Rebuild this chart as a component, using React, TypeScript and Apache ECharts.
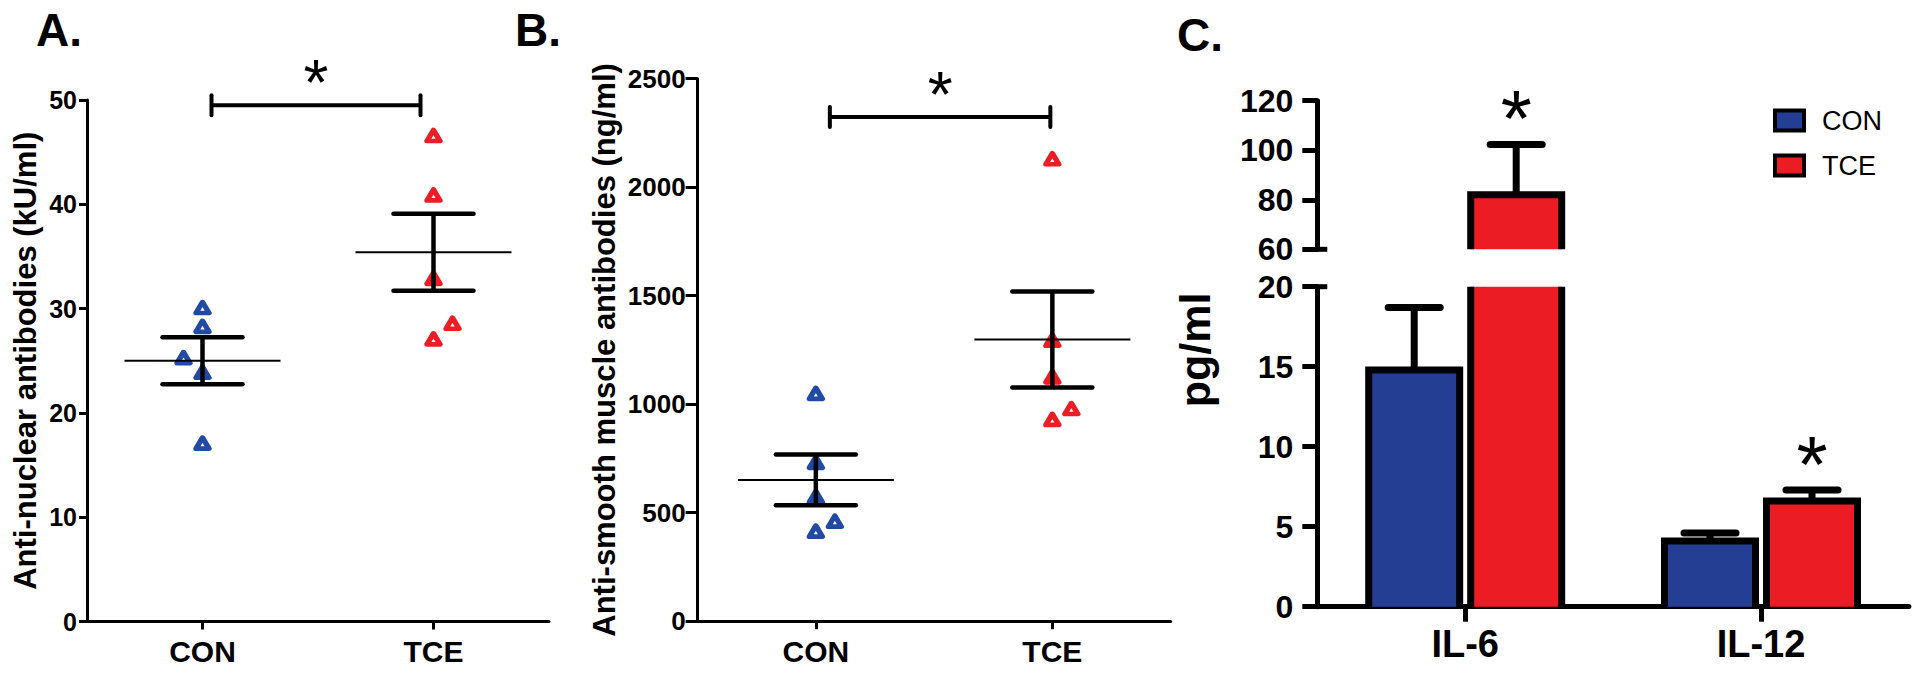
import React, { useEffect, useRef } from "react";
import * as echarts from "echarts";

const FONT = "'Liberation Sans', Arial, Helvetica, sans-serif";

// ---------------- data ----------------
const GROUPS = ["CON", "TCE"];

// Panel A: anti-nuclear antibodies (kU/ml)
const ANA_CON = [30.1, 28.3, 25.3, 23.9, 17.1];
const ANA_TCE = [46.6, 40.9, 32.9, 28.6, 27.1];
const ANA_MEAN = [25.0, 35.4];
const ANA_SEM = [2.25, 3.7];
const ANA_BRACKET = 49.5;
const ANA_TICKS = [0, 10, 20, 30, 40, 50];

// Panel B: anti-smooth muscle antibodies (ng/ml)
const SMA_CON = [1050, 732, 574, 461, 415];
const SMA_TCE = [2131, 1295, 1126, 980, 930];
const SMA_MEAN = [651, 1298];
const SMA_SEM = [117, 221];
const SMA_BRACKET = 2323;
const SMA_TICKS = [0, 500, 1000, 1500, 2000, 2500];

// Panel C: cytokines (pg/ml)
const CYTOKINES = ["IL-6", "IL-12"];
const CON_PG = [14.8, 4.1];
const CON_PG_SEM = [3.9, 0.5];
const TCE_PG = [82, 6.6];
const TCE_PG_SEM = [20.3, 0.7];
const TCE_SIG = [1, 1];
const LOW_TICKS = [0, 5, 10, 15, 20];
const HIGH_TICKS = [60, 80, 100, 120];

// marker side shift (-1 left, 0 centre, +1 right)
const ANA_CON_SIDE = [0, 0, -1, 0, 0];
const ANA_TCE_SIDE = [0, 0, 0, 1, 0];
const SMA_CON_SIDE = [0, 0, 0, 1, 0];
const SMA_TCE_SIDE = [0, 0, 0, 1, 0];

// ---------------- style ----------------
const BLACK = "#000";
const BLUE_PT = "#2249A3";
const RED_PT = "#EE1D25";
const BLUE_BAR = "#233E93";
const RED_BAR = "#EC1C24";
const BAR_W = 91;
const BAR_GAP_PX = 11;
const BAR_OFFSET = (BAR_W + BAR_GAP_PX) / 2;

function axisRange(ticks: number[]) {
  return { min: ticks[0], max: ticks[ticks.length - 1], interval: ticks[1] - ticks[0] };
}

function buildOption(): any {
  const gridBase = { containLabel: false, outerBoundsMode: "none" };
  const grid = [
    { ...gridBase, left: 87, top: 100, width: 462, height: 521.5 },
    { ...gridBase, left: 697.6, top: 78.7, width: 473, height: 542.5 },
    { ...gridBase, left: 1317.3, top: 100.7, width: 591.6, height: 148.6 },
    { ...gridBase, left: 1317.3, top: 286.7, width: 591.6, height: 320 },
  ];

  const xCat = (gridIndex: number, data: string[], lw: number, tickLen: number, fontSize: number, margin: number, show = true) => ({
    type: "category",
    gridIndex,
    data,
    show,
    boundaryGap: true,
    axisLine: { show: true, onZero: false, lineStyle: { color: BLACK, width: lw } },
    axisTick: { show: true, alignWithLabel: true, length: tickLen, lineStyle: { color: BLACK, width: lw } },
    axisLabel: { color: BLACK, fontFamily: FONT, fontWeight: "bold", fontSize, margin },
    splitLine: { show: false },
  });

  const yVal = (gridIndex: number, ticks: number[], lw: number, tickLen: number, fontSize: number, margin: number, extra: any = {}) => ({
    type: "value",
    gridIndex,
    ...axisRange(ticks),
    axisLine: { show: true, lineStyle: { color: BLACK, width: lw } },
    axisTick: { show: true, length: tickLen, lineStyle: { color: BLACK, width: lw } },
    axisLabel: {
      color: BLACK,
      fontFamily: FONT,
      fontWeight: "bold",
      fontSize,
      margin,
      formatter: (v: number) => String(v),
    },
    splitLine: { show: false },
    ...extra,
  });

  const yName = (name: string, gap: number) => ({
    name,
    nameLocation: "middle",
    nameGap: gap,
    nameRotate: 90,
    nameMoveOverlap: false,
    nameTextStyle: { color: BLACK, fontFamily: FONT, fontWeight: "bold", fontSize: 31 },
  });

  const xAxis = [
    xCat(0, GROUPS, 3, 8, 30, 15),
    xCat(1, GROUPS, 3, 8, 30, 15),
    xCat(2, CYTOKINES, 5, 15, 38, 18, false),
    xCat(3, CYTOKINES, 5, 15, 38, 18),
  ];
  const yAxis = [
    yVal(0, ANA_TICKS, 3, 8, 25, 10, yName("Anti-nuclear antibodies (kU/ml)", 46)),
    yVal(1, SMA_TICKS, 3, 12, 26, 12, yName("Anti-smooth muscle antibodies (ng/ml)", 78)),
    yVal(2, HIGH_TICKS, 5, 15, 32, 24),
    yVal(3, LOW_TICKS, 5, 15, 32, 24),
  ];

  const scatter = (name: string, idx: number, cat: number, values: number[], sides: number[], color: string) => ({
    type: "scatter",
    name,
    xAxisIndex: idx,
    yAxisIndex: idx,
    symbol: "triangle",
    symbolSize: [13, 11],
    silent: true,
    z: 2,
    itemStyle: { color: "#fff", borderColor: color, borderWidth: 5, borderJoin: "round", opacity: 1 },
    data: values.map((v, k) => ({ value: [cat, v], symbolOffset: [sides[k] * 19, 0] })),
  });

  const meanSemRender = (params: any, api: any) => {
    const i = api.value(0);
    const m = api.value(1);
    const s = api.value(2);
    const c = api.coord([i, m]);
    const hi = api.coord([i, m + s]);
    const lo = api.coord([i, m - s]);
    const x = c[0];
    const thick = { stroke: BLACK, lineWidth: 4.5, lineCap: "round" };
    return {
      type: "group",
      children: [
        { type: "line", shape: { x1: x - 78, y1: c[1], x2: x + 78, y2: c[1] }, style: { stroke: BLACK, lineWidth: 2 } },
        { type: "line", shape: { x1: x, y1: hi[1], x2: x, y2: lo[1] }, style: { stroke: BLACK, lineWidth: 4.5 } },
        { type: "line", shape: { x1: x - 40, y1: hi[1], x2: x + 40, y2: hi[1] }, style: thick },
        { type: "line", shape: { x1: x - 40, y1: lo[1], x2: x + 40, y2: lo[1] }, style: thick },
      ],
    };
  };

  const bracketRender = (insetL: number, insetR: number) => (params: any, api: any) => {
    const a = api.coord([api.value(0), api.value(2)]);
    const b = api.coord([api.value(1), api.value(2)]);
    const x1 = a[0] + insetL;
    const x2 = b[0] - insetR;
    const y = a[1];
    const fs = 64;
    const cap = { stroke: BLACK, lineWidth: 4, lineCap: "round" };
    return {
      type: "group",
      children: [
        { type: "line", shape: { x1, y1: y, x2, y2: y }, style: { stroke: BLACK, lineWidth: 4 } },
        { type: "line", shape: { x1, y1: y - 10, x2: x1, y2: y + 10 }, style: cap },
        { type: "line", shape: { x1: x2, y1: y - 10, x2, y2: y + 10 }, style: cap },
        {
          type: "text",
          x: (x1 + x2) / 2,
          y: y - 31 + 0.14 * fs,
          style: { text: "*", font: `${fs}px ${FONT}`, fill: BLACK, align: "center", verticalAlign: "middle" },
        },
      ],
    };
  };

  const meanSeries = (idx: number, means: number[], sems: number[]) => ({
    type: "custom",
    name: `mean${idx}`,
    xAxisIndex: idx,
    yAxisIndex: idx,
    silent: true,
    z: 5,
    encode: { x: 0, y: 1 },
    data: means.map((m, i) => [i, m, sems[i]]),
    renderItem: meanSemRender,
  });

  const bracketSeries = (idx: number, yv: number, insetL: number, insetR: number) => ({
    type: "custom",
    name: `bracket${idx}`,
    xAxisIndex: idx,
    yAxisIndex: idx,
    silent: true,
    z: 5,
    encode: { x: [0, 1], y: 2 },
    data: [[GROUPS.indexOf("CON"), GROUPS.indexOf("TCE"), yv]],
    renderItem: bracketRender(insetL, insetR),
  });

  const barRender = (side: number, color: string) => (params: any, api: any) => {
    const i = api.value(0);
    const m = api.value(1);
    const s = api.value(2);
    const sig = api.value(3);
    const cs = params.coordSys;
    const top = cs.y;
    const bottom = cs.y + cs.height;
    const p = api.coord([i, m]);
    const cx = p[0] + side * BAR_OFFSET;
    const half = BAR_W / 2;
    const yTop = p[1];
    if (yTop >= bottom) return null;
    const clippedTop = Math.max(yTop, top);
    const children: any[] = [
      { type: "rect", shape: { x: cx - half, y: clippedTop, width: BAR_W, height: bottom - clippedTop }, style: { fill: color } },
    ];
    if (yTop >= top) {
      children.push({
        type: "polyline",
        shape: { points: [[cx - half, bottom], [cx - half, yTop], [cx + half, yTop], [cx + half, bottom]] },
        style: { stroke: BLACK, lineWidth: 7, fill: "none", lineJoin: "miter" },
      });
      const e = api.coord([i, m + s])[1];
      children.push({ type: "line", shape: { x1: cx, y1: yTop, x2: cx, y2: e }, style: { stroke: BLACK, lineWidth: 7 } });
      children.push({ type: "line", shape: { x1: cx - 26, y1: e, x2: cx + 26, y2: e }, style: { stroke: BLACK, lineWidth: 7, lineCap: "round" } });
      if (sig) {
        const fs = 80;
        children.push({
          type: "text",
          x: cx,
          y: e - 36 + 0.13 * fs,
          style: { text: "*", font: `${fs}px ${FONT}`, fill: BLACK, align: "center", verticalAlign: "middle" },
        });
      }
    } else {
      children.push({ type: "line", shape: { x1: cx - half, y1: top, x2: cx - half, y2: bottom }, style: { stroke: BLACK, lineWidth: 7 } });
      children.push({ type: "line", shape: { x1: cx + half, y1: top, x2: cx + half, y2: bottom }, style: { stroke: BLACK, lineWidth: 7 } });
    }
    return { type: "group", children };
  };

  const barSeries = (name: string, idx: number, means: number[], sems: number[], sigs: number[] | null, side: number, color: string) => ({
    type: "custom",
    name,
    xAxisIndex: idx,
    yAxisIndex: idx,
    silent: true,
    z: 3,
    itemStyle: { color },
    encode: { x: 0, y: 1 },
    data: means.map((m, i) => [i, m, sems[i], sigs ? sigs[i] : 0]),
    renderItem: barRender(side, color),
  });

  const breakRender = (params: any, api: any) => {
    const p = api.coord([api.value(0), api.value(1)]);
    const x = params.coordSys.x;
    return { type: "line", shape: { x1: x - 2.5, y1: p[1], x2: x + 10, y2: p[1] }, style: { stroke: BLACK, lineWidth: 5 } };
  };
  const breakSeries = (idx: number, v: number) => ({
    type: "custom",
    name: `break${idx}`,
    xAxisIndex: idx,
    yAxisIndex: idx,
    silent: true,
    z: 6,
    encode: { x: 0, y: 1 },
    data: [[0, v]],
    renderItem: breakRender,
  });

  const series = [
    scatter("ANA CON", 0, 0, ANA_CON, ANA_CON_SIDE, BLUE_PT),
    scatter("ANA TCE", 0, 1, ANA_TCE, ANA_TCE_SIDE, RED_PT),
    meanSeries(0, ANA_MEAN, ANA_SEM),
    bracketSeries(0, ANA_BRACKET, 9, 13),
    scatter("SMA CON", 1, 0, SMA_CON, SMA_CON_SIDE, BLUE_PT),
    scatter("SMA TCE", 1, 1, SMA_TCE, SMA_TCE_SIDE, RED_PT),
    meanSeries(1, SMA_MEAN, SMA_SEM),
    bracketSeries(1, SMA_BRACKET, 14, 2),
    barSeries("CON", 2, CON_PG, CON_PG_SEM, null, -1, BLUE_BAR),
    barSeries("TCE", 2, TCE_PG, TCE_PG_SEM, TCE_SIG, 1, RED_BAR),
    barSeries("CON", 3, CON_PG, CON_PG_SEM, null, -1, BLUE_BAR),
    barSeries("TCE", 3, TCE_PG, TCE_PG_SEM, TCE_SIG, 1, RED_BAR),
    breakSeries(2, HIGH_TICKS[0]),
    breakSeries(3, LOW_TICKS[LOW_TICKS.length - 1]),
  ];

  const panelFont = `bold 46px ${FONT}`;

  return {
    animation: false,
    backgroundColor: "#fff",
    textStyle: { fontFamily: FONT, color: BLACK },
    grid,
    xAxis,
    yAxis,
    series,
    legend: {
      data: [
        { name: "CON", itemStyle: { color: BLUE_BAR, borderColor: BLACK, borderWidth: 4 } },
        { name: "TCE", itemStyle: { color: RED_BAR, borderColor: BLACK, borderWidth: 4 } },
      ],
      orient: "vertical",
      left: 1768,
      top: 102,
      icon: "rect",
      itemWidth: 29,
      itemHeight: 20,
      itemGap: 18,
      selectedMode: false,
      textStyle: { fontFamily: FONT, fontSize: 27, color: BLACK, padding: [0, 0, 0, 13] },
    },
    graphic: [
      { type: "text", left: 36, top: 7, style: { text: "A.", font: panelFont, fill: BLACK } },
      { type: "text", left: 515, top: 7, style: { text: "B.", font: panelFont, fill: BLACK } },
      { type: "text", left: 1177, top: 12, style: { text: "C.", font: panelFont, fill: BLACK } },
      {
        type: "text",
        x: 1195,
        y: 350,
        rotation: Math.PI / 2,
        style: { text: "pg/ml", font: `bold 43px ${FONT}`, fill: BLACK, align: "center", verticalAlign: "middle" },
      },
    ],
  };
}

export default function App() {
  const ref = useRef<HTMLDivElement>(null);
  useEffect(() => {
    if (!ref.current) return;
    const chart = echarts.init(ref.current, null, { renderer: "svg" });
    chart.setOption(buildOption());
    return () => chart.dispose();
  }, []);
  return (
    <div
      ref={ref}
      style={{ position: "absolute", left: 0, top: 0, width: 1920, height: 674, background: "#fff" }}
    />
  );
}
